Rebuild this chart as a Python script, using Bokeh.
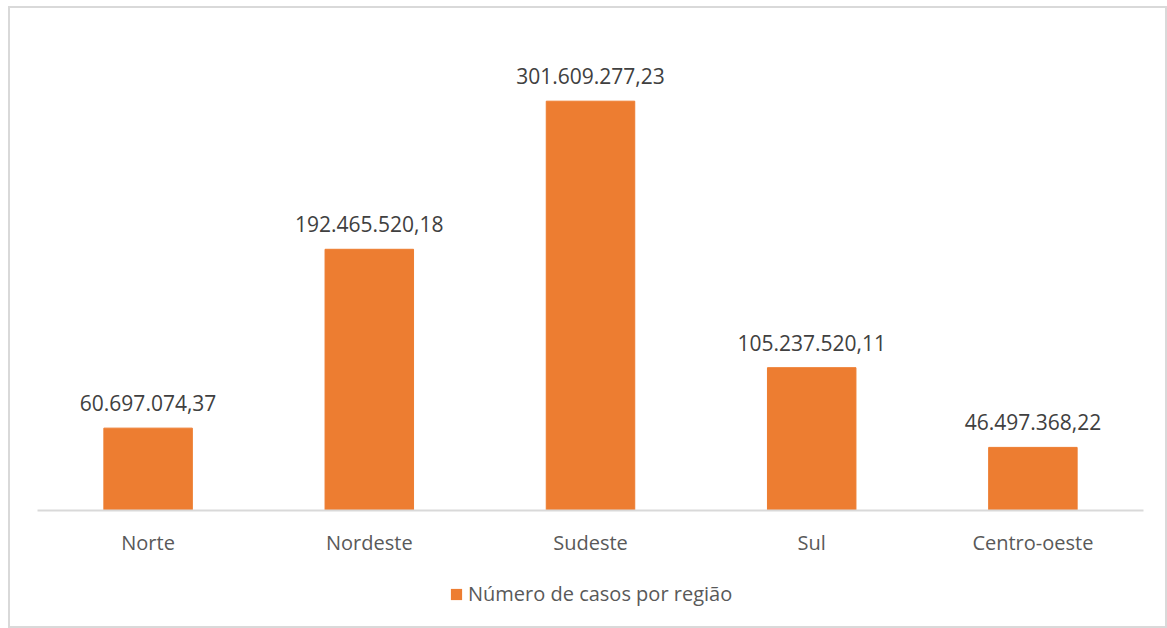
from bokeh.plotting import figure
from bokeh.layouts import column
from bokeh.models import ColumnDataSource, LabelSet, Legend, LegendItem, FactorRange
from bokeh.core.properties import value
from bokeh.embed import file_html
from bokeh.resources import INLINE

regions = ["Norte", "Nordeste", "Sudeste", "Sul", "Centro-oeste"]
values = [60697074.37, 192465520.18, 301609277.23, 105237520.11, 46497368.22]
value_labels = ["60.697.074,37", "192.465.520,18", "301.609.277,23", "105.237.520,11", "46.497.368,22"]
series_name = "Número de casos por região"

FONT = "Open Sans"
ORANGE = "#ED7D31"
src = ColumnDataSource(dict(x=regions, top=values, lab=value_labels))

p = figure(x_range=FactorRange(*regions), y_range=(0, 350e6),
           width=1155, height=558, output_backend="svg", toolbar_location=None,
           min_border_left=27, min_border_right=22, min_border_top=27, min_border_bottom=56)
p.outline_line_color = None
p.grid.visible = False
p.yaxis.visible = False
p.x_range.range_padding = 0
p.x_range.factor_padding = 0

p.vbar(x="x", top="top", width=0.4, source=src, color=ORANGE)

p.add_layout(LabelSet(x="x", y="top", text="lab", source=src, y_offset=17,
                      text_align="center", text_baseline="alphabetic",
                      text_font=value(FONT), text_font_size="21px", text_color="#404040"))

ax = p.xaxis[0]
ax.axis_line_color = "#d9d9d9"
ax.axis_line_width = 2
ax.major_tick_line_color = None
ax.minor_tick_line_color = None
ax.major_label_standoff = 12
ax.major_label_text_font = FONT
ax.major_label_text_font_size = "20px"
ax.major_label_text_color = "#595959"

# legend strip: same series as a hidden renderer, so only its legend entry shows
lf = figure(width=1155, height=60, output_backend="svg", toolbar_location=None,
            min_border=0, x_range=FactorRange(*regions), y_range=(0, 350e6))
lf.outline_line_color = None
lf.axis.visible = False
lf.grid.visible = False
lr = lf.vbar(x="x", top="top", width=0.4, source=src, fill_color=ORANGE, line_color=None)
lr.visible = False
leg = Legend(items=[LegendItem(label=series_name, renderers=[lr])],
             orientation="horizontal", location=(412, 19),
             label_text_font=FONT, label_text_font_size="20px", label_text_color="#595959",
             glyph_width=14, glyph_height=14, border_line_color=None,
             background_fill_alpha=0, margin=0, padding=0, label_standoff=5,
             inactive_fill_alpha=0)
lf.add_layout(leg, "center")

layout = column(p, lf, spacing=0)
layout.styles = {"border": "2px solid #d9d9d9", "margin-left": "8px", "margin-top": "6px"}

open("out.html", "w").write(file_html(layout, INLINE))
